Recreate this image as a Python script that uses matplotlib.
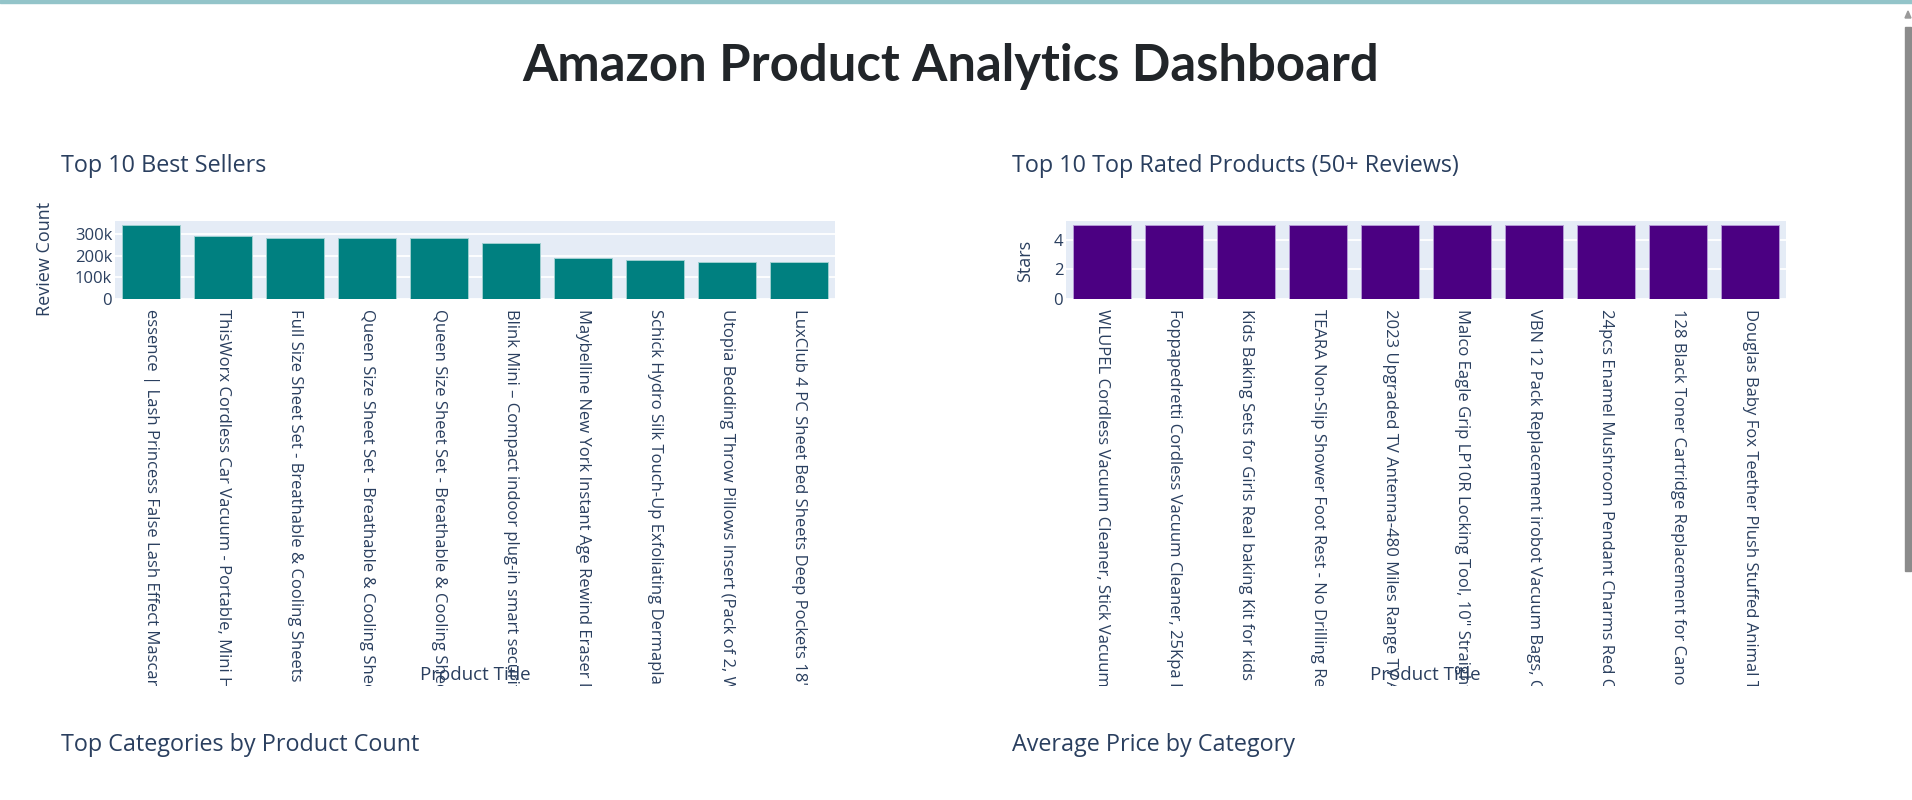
import matplotlib
matplotlib.use("Agg")
import matplotlib.pyplot as plt
from matplotlib.patches import Rectangle, Polygon
from matplotlib.transforms import Bbox, TransformedBbox

W, H = 1912, 800

best_titles = [
    "essence | Lash Princess False Lash Effect Mascara",
    "ThisWorx Cordless Car Vacuum - Portable, Mini Handheld",
    "Full Size Sheet Set - Breathable & Cooling Sheets",
    "Queen Size Sheet Set - Breathable & Cooling Sheets",
    "Queen Size Sheet Set - Breathable & Cooling Sheets",
    "Blink Mini \u2013 Compact indoor plug-in smart security camera",
    "Maybelline New York Instant Age Rewind Eraser Dark Circles",
    "Schick Hydro Silk Touch-Up Exfoliating Dermaplaning",
    "Utopia Bedding Throw Pillows Insert (Pack of 2, White)",
    "LuxClub 4 PC Sheet Bed Sheets Deep Pockets 18\" Deep",
]
best_reviews = [342000, 290000, 281000, 281000, 281000, 259000, 191000, 182000, 171000, 170000]

rated_titles = [
    "WLUPEL Cordless Vacuum Cleaner, Stick Vacuum with",
    "Foppapedretti Cordless Vacuum Cleaner, 25Kpa Powerful",
    "Kids Baking Sets for Girls Real baking Kit for kids",
    "TEARA Non-Slip Shower Foot Rest - No Drilling Required",
    "2023 Upgraded TV Antenna-480 Miles Range TV Antenna",
    "Malco Eagle Grip LP10R Locking Tool, 10\" Straight Jaw",
    "VBN 12 Pack Replacement irobot Vacuum Bags, Compatible",
    "24pcs Enamel Mushroom Pendant Charms Red Cute",
    "128 Black Toner Cartridge Replacement for Canon",
    "Douglas Baby Fox Teether Plush Stuffed Animal Toy",
]
rated_stars = [5.0, 5.0, 5.0, 5.0, 5.0, 5.0, 5.0, 5.0, 5.0, 5.0]

best_ticks = [0, 100000, 200000, 300000]
best_tick_labels = ["0", "100k", "200k", "300k"]
star_ticks = [0, 2, 4]

TXT = "#2a3f5f"
BG = "#E5ECF6"

fig = plt.figure(figsize=(W / 100, H / 100), dpi=100)
fig.patch.set_facecolor("white")


def fx(x):
    return x / W


def fy(y):
    return 1 - y / H


clip = TransformedBbox(Bbox([[0, fy(686)], [1, 1]]), fig.transFigure)


def bar_panel(left, titles, vals, color, edge, ymax, ticks, tlabels):
    ax = fig.add_axes([fx(left), fy(299), 720 / W, 78 / H])
    ax.set_facecolor(BG)
    ax.bar(range(len(vals)), vals, width=0.8, color=color, edgecolor=edge, linewidth=0.7, zorder=3)
    ax.set_xlim(-0.5, len(vals) - 0.5)
    ax.set_ylim(0, ymax)
    ax.set_yticks(ticks, tlabels, family="Open Sans", fontsize=12, color=TXT)
    ax.set_xticks(range(len(titles)), titles, rotation=-90, family="Open Sans",
                  fontsize=12, color=TXT, ha="center", va="top")
    ax.tick_params(axis="both", length=0)
    ax.tick_params(axis="y", pad=2)
    ax.tick_params(axis="x", pad=7)
    ax.yaxis.grid(True, color="white", lw=1.3, zorder=1)
    ax.set_axisbelow(True)
    for s in ax.spines.values():
        s.set_visible(False)
    # the page cuts the long product names off at the bottom
    for lab in ax.get_xticklabels():
        lab.set_clip_box(clip)
        lab.set_clip_on(True)
    return ax


ax1 = bar_panel(115, best_titles, best_reviews, "#008080", "#9fcfd0", 360000, best_ticks, best_tick_labels)
ax2 = bar_panel(1066, rated_titles, rated_stars, "#4B0082", "#b49ad6", 5.263, star_ticks, [str(t) for t in star_ticks])

# axis titles
fig.text(fx(45), fy(259), "Review Count", rotation=90, ha="center", va="center",
         family="Open Sans", fontsize=13, color=TXT)
fig.text(fx(1025), fy(261), "Stars", rotation=90, ha="center", va="center",
         family="Open Sans", fontsize=13, color=TXT)
fig.text(fx(475), fy(675), "Product Title", ha="center", va="center",
         family="Open Sans", fontsize=13.5, color=TXT, zorder=5)
fig.text(fx(1425.5), fy(675), "Product Title", ha="center", va="center",
         family="Open Sans", fontsize=13.5, color=TXT, zorder=5)

# panel titles
for x, y, t in [(61, 172, "Top 10 Best Sellers"),
                (1012, 172, "Top 10 Top Rated Products (50+ Reviews)"),
                (61, 751, "Top Categories by Product Count"),
                (1012, 751, "Average Price by Category")]:
    fig.text(fx(x), fy(y), t, ha="left", va="baseline", family="Open Sans", fontsize=16.8, color=TXT)

# page title, sized to the measured width
title = fig.text(fx(951), fy(81), "Amazon Product Analytics Dashboard", ha="center", va="baseline",
                 family="Lato", weight="bold", fontsize=36, color="#212529")
r = fig.canvas.get_renderer()
w = title.get_window_extent(r).width
title.set_fontsize(36 * 854 / w)

# browser frame bits: top rule and scrollbar
fig.patches.append(Rectangle((0, fy(2.5)), 1, 2.5 / H, transform=fig.transFigure,
                             color="#93c4c9", zorder=10))
fig.patches.append(Rectangle((fx(1905), fy(571)), 6 / W, 544 / H, transform=fig.transFigure,
                             color="#8b8b8b", zorder=10))
fig.patches.append(Polygon([(fx(1905), fy(18)), (fx(1911), fy(18)), (fx(1908), fy(11))],
                           closed=True, transform=fig.transFigure, color="#9a9a9a", zorder=10))

fig.savefig("out.png", dpi=100)
